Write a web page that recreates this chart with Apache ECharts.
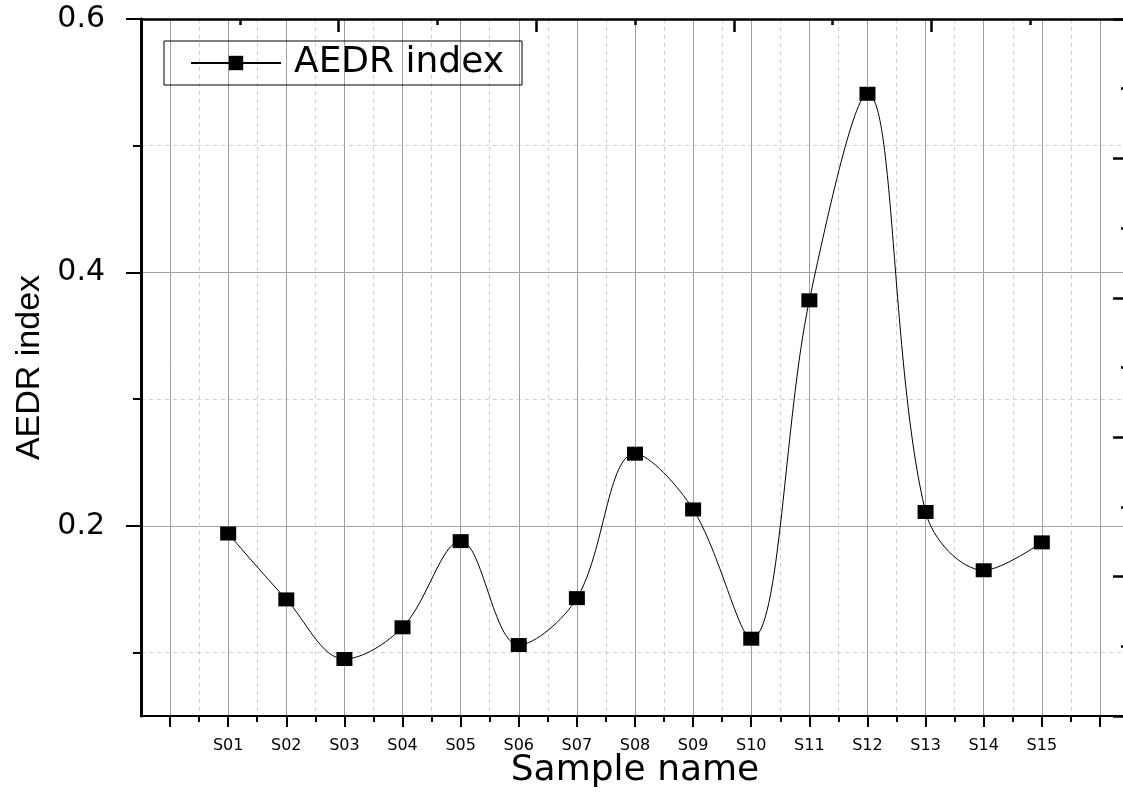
<!DOCTYPE html>
<html>
<head>
<meta charset="utf-8">
<script src="https://cdn.jsdelivr.net/npm/echarts@6/dist/echarts.min.js"></script>
<style>
html,body{margin:0;padding:0;background:#fff;}
#chart{width:1123px;height:811px;}
</style>
</head>
<body>
<div id="chart"></div>
<script>
// ---- data ----
var categories = ['S01','S02','S03','S04','S05','S06','S07','S08','S09','S10','S11','S12','S13','S14','S15'];
var aedrIndex = [0.194, 0.142, 0.095, 0.120, 0.188, 0.106, 0.143, 0.257, 0.213, 0.111, 0.378, 0.541, 0.211, 0.165, 0.187];
var yMajorTicks = [0.2, 0.4, 0.6];
var yMinorTicks = [0.1, 0.3, 0.5];
var xMajorTicks = [0,1,2,3,4,5,6,7,8,9,10,11,12,13,14,15,16];
var xMinorTicks = [0.5,1.5,2.5,3.5,4.5,5.5,6.5,7.5,8.5,9.5,10.5,11.5,12.5,13.5,14.5,15.5];
var xLabelPositions = categories.map(function(c, i){ return i + 1; });

var seriesData = categories.map(function(c, i){ return [i + 1, aedrIndex[i]]; });

var chart = echarts.init(document.getElementById('chart'), null, {renderer: 'canvas'});
var HFONT = 'DejaVu Sans';
var option = {
  backgroundColor: '#fff',
  animation: false,
  grid: {left: 141, right: -6, top: 19, bottom: 95, containLabel: false, outerBoundsMode: 'none'},
  legend: {
    left: 164, top: 41,
    orient: 'horizontal',
    borderColor: '#000', borderWidth: 1, borderRadius: 0,
    padding: [4, 18, 4, 26],
    itemWidth: 90, itemHeight: 18,
    textStyle: {fontFamily: HFONT, fontSize: 36, color: '#000', lineHeight: 36, padding: [0,0,0,8]},
    data: ['AEDR index']
  },
  xAxis: [
    {
      type: 'value', position: 'bottom', min: -0.5, max: 16.5,
      name: 'Sample name', nameLocation: 'middle', nameGap: 37, nameMoveOverlap: false,
      nameTextStyle: {fontFamily: HFONT, fontSize: 36, color: '#000'},
      axisLine: {show: true, onZero: false, lineStyle: {color: '#000', width: 2}},
      axisTick: {show: true, customValues: xMajorTicks, length: 11, lineStyle: {color: '#000', width: 2}},
      axisLabel: {show: true, customValues: xLabelPositions, margin: 22,
        fontFamily: HFONT, fontSize: 16, color: '#000',
        formatter: function(v){ return categories[Math.round(v) - 1] || ''; }},
      splitLine: {show: true, lineStyle: {color: '#a0a0a0', width: 1, type: 'solid'}}
    },
    {
      type: 'value', position: 'bottom', min: -0.5, max: 16.5,
      axisLine: {show: false, onZero: false},
      axisTick: {show: true, customValues: xMinorTicks, length: 6, lineStyle: {color: '#000', width: 2}},
      axisLabel: {show: false},
      splitLine: {show: true, lineStyle: {color: '#cfcfcf', width: 1, type: [4, 4]}}
    },
    {
      type: 'value', position: 'top', min: 0, max: 5, interval: 1,
      axisLine: {show: true, onZero: false, lineStyle: {color: '#000', width: 2.5}},
      axisTick: {show: true, inside: true, length: 13, lineStyle: {color: '#000', width: 2.5}},
      minorTick: {show: true, splitNumber: 2, length: 6, lineStyle: {color: '#000', width: 2.5}},
      axisLabel: {show: false},
      splitLine: {show: false}
    }
  ],
  yAxis: [
    {
      type: 'value', position: 'left', min: 0.05, max: 0.6,
      name: 'AEDR index', nameLocation: 'middle', nameGap: 94, nameRotate: 90, nameMoveOverlap: false,
      nameTextStyle: {fontFamily: 'Liberation Sans', fontSize: 34, color: '#000'},
      axisLine: {show: true, onZero: false, lineStyle: {color: '#000', width: 3}},
      axisTick: {show: true, customValues: yMajorTicks, length: 15, lineStyle: {color: '#000', width: 2}},
      axisLabel: {show: true, customValues: yMajorTicks, margin: 36,
        fontFamily: HFONT, fontSize: 30, color: '#000',
        formatter: function(v){ return v.toFixed(1); }},
      splitLine: {show: true, lineStyle: {color: '#a0a0a0', width: 1, type: 'solid'}}
    },
    {
      type: 'value', position: 'left', min: 0.05, max: 0.6,
      axisLine: {show: false, onZero: false},
      axisTick: {show: true, customValues: yMinorTicks, length: 8, lineStyle: {color: '#000', width: 2}},
      axisLabel: {show: false},
      splitLine: {show: true, lineStyle: {color: '#cfcfcf', width: 1, type: [4, 4]}}
    },
    {
      type: 'value', position: 'right', min: 0, max: 5, interval: 1,
      axisLine: {show: true, onZero: false, lineStyle: {color: '#000', width: 2.5}},
      axisTick: {show: true, inside: true, length: 16, lineStyle: {color: '#000', width: 2.5}},
      minorTick: {show: true, splitNumber: 2, length: 8, lineStyle: {color: '#000', width: 2.5}},
      axisLabel: {show: false},
      splitLine: {show: false}
    }
  ],
  series: [
    {
      name: 'AEDR index',
      type: 'line',
      xAxisIndex: 0, yAxisIndex: 0,
      data: seriesData,
      smooth: 0.35,
      symbol: 'rect',
      symbolSize: [16, 14],
      itemStyle: {color: '#000'},
      lineStyle: {color: '#000', width: 1},
      z: 5
    }
  ]
};
chart.setOption(option);
</script>
</body>
</html>
